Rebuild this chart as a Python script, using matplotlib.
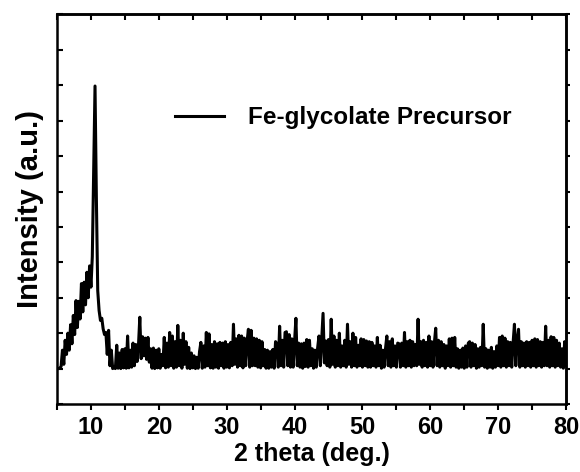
import numpy as np
import matplotlib
matplotlib.use("Agg")
import matplotlib.pyplot as plt
from matplotlib.ticker import MultipleLocator

plt.rcParams['font.family'] = ['Liberation Sans', 'DejaVu Sans']
plt.rcParams['font.weight'] = 'bold'
plt.rcParams['axes.labelweight'] = 'bold'

# XRD scan, 5-80 deg, 0.2 deg step
scan_start = 5.0
scan_end = 80.0
intensity = [
    500, 500, 505, 530, 760, 560, 900, 700, 1000, 760, 1120, 850, 1250, 980, 1460, 1080, 1450, 1200, 1700, 1300, 1720, 1400, 1860, 1500, 1950,
    1650, 2080, 3300, 4490, 2900, 1600, 1320, 1180, 1210, 1060, 980, 1010, 700, 1040, 540, 760, 500, 520, 500, 830, 505, 720, 500, 770, 510,
    780, 505, 960, 510, 760, 520, 860, 540, 840, 600, 820, 1225, 640, 950, 680, 930, 630, 940, 590, 780, 505, 790, 500, 760, 510,
    780, 505, 700, 540, 940, 510, 860, 520, 1010, 540, 960, 505, 880, 520, 1110, 540, 900, 505, 1000, 560, 880, 505, 800, 500, 720,
    510, 680, 500, 660, 505, 740, 870, 505, 820, 520, 1010, 540, 990, 510, 840, 505, 880, 520, 850, 505, 870, 540, 860, 505, 880,
    520, 840, 510, 870, 540, 1126, 560, 920, 520, 970, 540, 960, 510, 930, 540, 880, 1055, 520, 1040, 540, 930, 540, 920, 520, 900,
    510, 880, 540, 770, 505, 760, 505, 740, 520, 770, 505, 880, 850, 520, 1098, 540, 900, 520, 1010, 1020, 540, 980, 520, 920, 520,
    880, 1210, 540, 860, 520, 850, 505, 860, 530, 910, 520, 900, 540, 780, 505, 760, 520, 790, 960, 540, 900, 1280, 580, 890, 540,
    910, 520, 1197, 560, 960, 520, 900, 540, 1000, 520, 820, 540, 900, 520, 1126, 560, 880, 520, 1000, 540, 940, 520, 830, 540, 920,
    520, 910, 540, 890, 520, 880, 520, 870, 540, 820, 520, 940, 540, 830, 505, 760, 520, 780, 960, 540, 880, 520, 920, 540, 820,
    520, 860, 850, 520, 860, 540, 1010, 520, 880, 540, 900, 520, 880, 540, 840, 540, 1197, 560, 880, 520, 900, 540, 870, 520, 960,
    540, 880, 520, 860, 1070, 540, 900, 520, 880, 540, 840, 505, 820, 540, 920, 520, 930, 540, 940, 520, 780, 505, 760, 520, 790,
    505, 820, 520, 860, 880, 520, 860, 540, 840, 505, 780, 520, 800, 540, 1126, 520, 780, 505, 760, 520, 800, 505, 740, 520, 820,
    540, 940, 520, 960, 540, 930, 520, 880, 540, 870, 520, 860, 1126, 540, 900, 1055, 520, 880, 540, 860, 520, 880, 540, 870, 520,
    900, 540, 920, 520, 910, 540, 880, 520, 870, 540, 1098, 540, 900, 520, 950, 540, 940, 520, 900, 540, 860, 520, 780, 505, 880,
    540,
]
two_theta = np.linspace(scan_start, scan_end, len(intensity))

fig = plt.figure(figsize=(5.8, 4.72), dpi=100)
ax = fig.add_axes([0.0983, 0.1441, 0.8776, 0.8252])

ax.plot(two_theta, intensity, color='black', lw=2.2, label='Fe-glycolate Precursor')

ax.set_xlim(5, 80)
ax.set_ylim(0, 5500)
ax.xaxis.set_major_locator(MultipleLocator(10))
ax.xaxis.set_minor_locator(MultipleLocator(5))
ax.yaxis.set_major_locator(MultipleLocator(500))
ax.set_yticklabels([])

ax.tick_params(axis='x', which='both', direction='out', length=4, width=1.5, labelsize=17, pad=5)
ax.tick_params(axis='y', which='both', direction='in', length=4, width=1.5)

# top and right ticks without labels
top = ax.secondary_xaxis('top')
top.xaxis.set_major_locator(MultipleLocator(5))
top.tick_params(direction='in', length=4, width=1.5, labeltop=False)
right = ax.secondary_yaxis('right')
right.yaxis.set_major_locator(MultipleLocator(500))
right.tick_params(direction='out', length=3, width=1.5, labelright=False)

for sp in list(ax.spines.values()) + [top.spines['top'], right.spines['right']]:
    sp.set_linewidth(1.8)

ax.set_xlabel('2 theta (deg.)', fontsize=18, labelpad=2)
ax.set_ylabel('Intensity (a.u.)', fontsize=21, labelpad=6)

ax.legend(frameon=False, loc='center left', bbox_to_anchor=(0.232, 0.735),
          borderpad=0, borderaxespad=0, handlelength=2.0, handletextpad=1.0,
          prop={'size': 17.5, 'weight': 'bold'})

fig.savefig('out.png', dpi=100)
